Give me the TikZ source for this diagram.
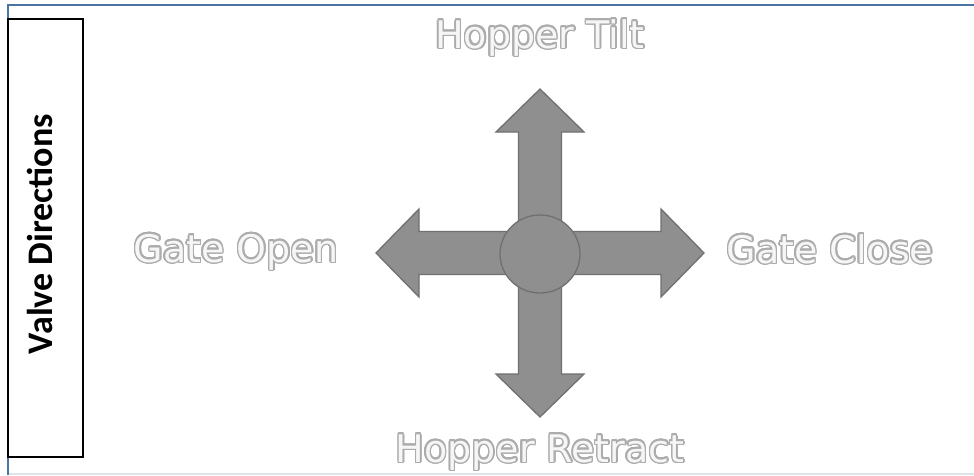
\documentclass[tikz,border=0pt]{standalone}
\usepackage{fontspec}
\setmainfont{DejaVu Sans}
\newfontfamily\titlefont{Carlito}
\usepackage[copies]{contour}
\contourlength{1.5pt}
\usetikzlibrary{shapes.geometric}
\definecolor{frameblue}{RGB}{74,116,164}
\definecolor{framelight}{RGB}{220,228,236}
\definecolor{arrowgray}{RGB}{143,143,143}
\definecolor{arrowline}{RGB}{112,112,112}
\definecolor{labelline}{RGB}{172,172,172}
\definecolor{labelfill}{RGB}{246,246,246}
% outlined direction text
\newcommand{\dirtext}[1]{\contour{labelline}{\textcolor{labelfill}{#1}}}
\begin{document}
\begin{tikzpicture}[
                x=1pt, y=-1pt,
                frame/.style={draw=frameblue, line width=2pt},
                titlebox/.style={draw=black, line width=1.6pt, minimum width=75pt, minimum height=438pt},
                arrowbody/.style={draw=arrowline, fill=arrowgray, line width=1.3pt, line join=miter},
                hub/.style={ellipse, draw=arrowline, fill=arrowgray, line width=1.3pt, minimum width=80pt, minimum height=78pt},
                dirlabel/.style={anchor=base, inner sep=0pt, font=\fontsize{38}{42}\selectfont}
            ]
            \useasboundingbox (0,0) rectangle (974,475);
            % Frame
            \draw[draw=framelight, line width=1.5pt] (7,474) -- (974,474);
            \draw[frame] (974,4.5) -- (7.5,4.5) -- (7.5,475);

            % Title
            \node[titlebox] (title) at (45.5,238) {};
            \node[rotate=90, font=\titlefont\bfseries\fontsize{36}{40}\selectfont] (titletext) at (40,234) {Valve Directions};

            % Arrows
            \foreach \a in {0,90,180,270} {
                \draw[arrowbody, shift={(540,253)}, rotate=\a]
                    (0,-21.5) -- (121,-21.5) -- (121,-44) -- (164,0) -- (121,44) -- (121,21.5) -- (0,21.5) -- cycle;
            }
            \node[hub] (center) at (540,254) {};

            % Labels
            \node[dirlabel] (tilt) at (540,48) {\dirtext{Hopper Tilt}};
            \node[dirlabel] (retract) at (540,462) {\dirtext{Hopper Retract}};
            \node[dirlabel] (gateopen) at (236,262) {\dirtext{Gate Open}};
            \node[dirlabel] (gateclose) at (830,263) {\dirtext{Gate Close}};
        \end{tikzpicture}
\end{document}
